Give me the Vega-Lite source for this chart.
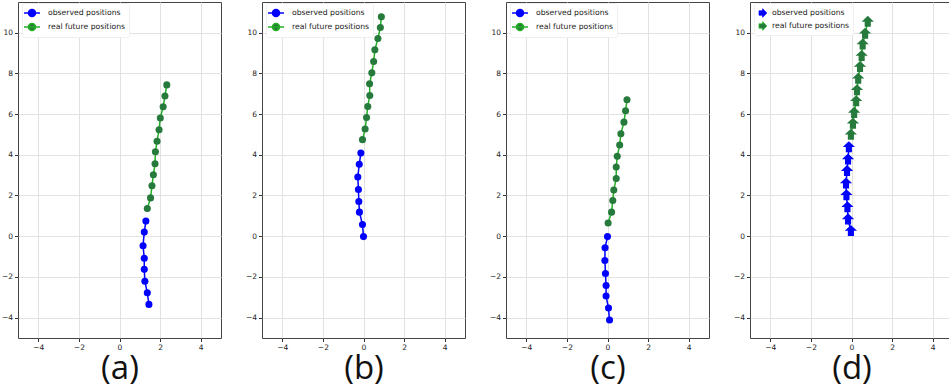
{
  "$schema": "https://vega.github.io/schema/vega-lite/v6.json",
  "background": "white",
  "padding": {"left": 0, "top": 1, "right": 0, "bottom": 0},
  "spacing": 22,
  "resolve": {"scale": {"fill": "independent", "stroke": "independent"}, "legend": {"fill": "independent", "stroke": "independent"}},
  "config": {
    "view": {"stroke": "#444", "strokeWidth": 1},
    "axis": {"domain": false, "grid": true, "gridColor": "#e2e2e2", "gridWidth": 1, "tickColor": "#333", "tickSize": 3.5, "labelFont": "DejaVu Sans", "labelFontSize": 7.5, "labelColor": "#222", "labelPadding": 2, "titleFont": "Open Sans", "titleFontSize": 33, "titleFontWeight": "normal", "titleColor": "#111", "titlePadding": 1},
    "legend": {"orient": "none", "legendX": 4, "legendY": 1, "title": null, "symbolSize": 150, "symbolStrokeWidth": 1.5, "labelFont": "DejaVu Sans", "labelFontSize": 7.7, "labelColor": "#222", "labelOffset": 9, "rowPadding": 0, "padding": 3, "fillColor": "white", "strokeColor": "#f0f0f0", "cornerRadius": 2}
  },
  "hconcat": [
    {
      "width": 203, "height": 336,
      "data": {"values": [
        {"s": "observed positions", "i": 0, "x": 1.45, "y": -3.35},
        {"s": "observed positions", "i": 1, "x": 1.37, "y": -2.78},
        {"s": "observed positions", "i": 2, "x": 1.25, "y": -2.21},
        {"s": "observed positions", "i": 3, "x": 1.22, "y": -1.63},
        {"s": "observed positions", "i": 4, "x": 1.22, "y": -1.08},
        {"s": "observed positions", "i": 5, "x": 1.16, "y": -0.47},
        {"s": "observed positions", "i": 6, "x": 1.22, "y": 0.20},
        {"s": "observed positions", "i": 7, "x": 1.30, "y": 0.74},
        {"s": "real future positions", "i": 0, "x": 1.37, "y": 1.36},
        {"s": "real future positions", "i": 1, "x": 1.53, "y": 1.88},
        {"s": "real future positions", "i": 2, "x": 1.60, "y": 2.48},
        {"s": "real future positions", "i": 3, "x": 1.67, "y": 3.02},
        {"s": "real future positions", "i": 4, "x": 1.75, "y": 3.56},
        {"s": "real future positions", "i": 5, "x": 1.77, "y": 4.15},
        {"s": "real future positions", "i": 6, "x": 1.85, "y": 4.66},
        {"s": "real future positions", "i": 7, "x": 1.95, "y": 5.23},
        {"s": "real future positions", "i": 8, "x": 2.01, "y": 5.80},
        {"s": "real future positions", "i": 9, "x": 2.15, "y": 6.36},
        {"s": "real future positions", "i": 10, "x": 2.24, "y": 6.88},
        {"s": "real future positions", "i": 11, "x": 2.33, "y": 7.43}
      ]},
      "layer": [
        {"mark": {"type": "line", "strokeWidth": 1.5},
         "encoding": {
           "x": {"field": "x", "type": "quantitative", "scale": {"domain": [-5, 5], "nice": false, "zero": false}, "axis": {"values": [-4, -2, 0, 2, 4], "title": "(a)"}},
           "y": {"field": "y", "type": "quantitative", "scale": {"domain": [-5, 11.5], "nice": false, "zero": false}, "axis": {"values": [-4, -2, 0, 2, 4, 6, 8, 10], "title": null}},
           "stroke": {"field": "s", "type": "nominal", "scale": {"domain": ["observed positions", "real future positions"], "range": ["#0000ff", "#22b022"]},
             "legend": {"symbolType": "M-1.3,0L1.3,0M0.57,0A0.57,0.57,0,1,1,-0.57,0A0.57,0.57,0,1,1,0.57,0Z",
               "encode": {"symbols": {"update": {"fill": {"signal": "datum.value === 'observed positions' ? '#0000ff' : '#267a3c'"}}}}}},
           "order": {"field": "i", "type": "quantitative"}}},
        {"mark": {"type": "point", "filled": true, "shape": "circle", "size": 50, "opacity": 1},
         "encoding": {
           "x": {"field": "x", "type": "quantitative"},
           "y": {"field": "y", "type": "quantitative"},
           "fill": {"field": "s", "type": "nominal", "scale": {"domain": ["observed positions", "real future positions"], "range": ["#0000ff", "#267a3c"]}, "legend": null}}}
      ]
    },
    {
      "width": 203, "height": 336,
      "data": {"values": [
        {"s": "observed positions", "i": 0, "x": 0.00, "y": -0.02},
        {"s": "observed positions", "i": 1, "x": -0.05, "y": 0.57},
        {"s": "observed positions", "i": 2, "x": -0.20, "y": 1.18},
        {"s": "observed positions", "i": 3, "x": -0.23, "y": 1.70},
        {"s": "observed positions", "i": 4, "x": -0.25, "y": 2.29},
        {"s": "observed positions", "i": 5, "x": -0.28, "y": 2.91},
        {"s": "observed positions", "i": 6, "x": -0.21, "y": 3.53},
        {"s": "observed positions", "i": 7, "x": -0.13, "y": 4.08},
        {"s": "real future positions", "i": 0, "x": -0.05, "y": 4.74},
        {"s": "real future positions", "i": 1, "x": 0.08, "y": 5.26},
        {"s": "real future positions", "i": 2, "x": 0.15, "y": 5.83},
        {"s": "real future positions", "i": 3, "x": 0.21, "y": 6.37},
        {"s": "real future positions", "i": 4, "x": 0.31, "y": 6.91},
        {"s": "real future positions", "i": 5, "x": 0.30, "y": 7.48},
        {"s": "real future positions", "i": 6, "x": 0.41, "y": 8.02},
        {"s": "real future positions", "i": 7, "x": 0.50, "y": 8.58},
        {"s": "real future positions", "i": 8, "x": 0.56, "y": 9.15},
        {"s": "real future positions", "i": 9, "x": 0.71, "y": 9.71},
        {"s": "real future positions", "i": 10, "x": 0.83, "y": 10.25},
        {"s": "real future positions", "i": 11, "x": 0.88, "y": 10.77}
      ]},
      "layer": [
        {"mark": {"type": "line", "strokeWidth": 1.5},
         "encoding": {
           "x": {"field": "x", "type": "quantitative", "scale": {"domain": [-5, 5], "nice": false, "zero": false}, "axis": {"values": [-4, -2, 0, 2, 4], "title": "(b)"}},
           "y": {"field": "y", "type": "quantitative", "scale": {"domain": [-5, 11.5], "nice": false, "zero": false}, "axis": {"values": [-4, -2, 0, 2, 4, 6, 8, 10], "title": null}},
           "stroke": {"field": "s", "type": "nominal", "scale": {"domain": ["observed positions", "real future positions"], "range": ["#0000ff", "#22b022"]},
             "legend": {"symbolType": "M-1.3,0L1.3,0M0.57,0A0.57,0.57,0,1,1,-0.57,0A0.57,0.57,0,1,1,0.57,0Z",
               "encode": {"symbols": {"update": {"fill": {"signal": "datum.value === 'observed positions' ? '#0000ff' : '#267a3c'"}}}}}},
           "order": {"field": "i", "type": "quantitative"}}},
        {"mark": {"type": "point", "filled": true, "shape": "circle", "size": 50, "opacity": 1},
         "encoding": {
           "x": {"field": "x", "type": "quantitative"},
           "y": {"field": "y", "type": "quantitative"},
           "fill": {"field": "s", "type": "nominal", "scale": {"domain": ["observed positions", "real future positions"], "range": ["#0000ff", "#267a3c"]}, "legend": null}}}
      ]
    },
    {
      "width": 203, "height": 336,
      "data": {"values": [
        {"s": "observed positions", "i": 0, "x": 0.10, "y": -4.12},
        {"s": "observed positions", "i": 1, "x": 0.05, "y": -3.53},
        {"s": "observed positions", "i": 2, "x": -0.07, "y": -2.94},
        {"s": "observed positions", "i": 3, "x": -0.07, "y": -2.42},
        {"s": "observed positions", "i": 4, "x": -0.10, "y": -1.83},
        {"s": "observed positions", "i": 5, "x": -0.13, "y": -1.19},
        {"s": "observed positions", "i": 6, "x": -0.12, "y": -0.57},
        {"s": "observed positions", "i": 7, "x": 0.00, "y": -0.02},
        {"s": "real future positions", "i": 0, "x": 0.03, "y": 0.65},
        {"s": "real future positions", "i": 1, "x": 0.20, "y": 1.18},
        {"s": "real future positions", "i": 2, "x": 0.26, "y": 1.75},
        {"s": "real future positions", "i": 3, "x": 0.31, "y": 2.27},
        {"s": "real future positions", "i": 4, "x": 0.43, "y": 2.83},
        {"s": "real future positions", "i": 5, "x": 0.43, "y": 3.40},
        {"s": "real future positions", "i": 6, "x": 0.48, "y": 3.92},
        {"s": "real future positions", "i": 7, "x": 0.60, "y": 4.48},
        {"s": "real future positions", "i": 8, "x": 0.66, "y": 5.03},
        {"s": "real future positions", "i": 9, "x": 0.81, "y": 5.60},
        {"s": "real future positions", "i": 10, "x": 0.89, "y": 6.16},
        {"s": "real future positions", "i": 11, "x": 0.96, "y": 6.70}
      ]},
      "layer": [
        {"mark": {"type": "line", "strokeWidth": 1.5},
         "encoding": {
           "x": {"field": "x", "type": "quantitative", "scale": {"domain": [-5, 5], "nice": false, "zero": false}, "axis": {"values": [-4, -2, 0, 2, 4], "title": "(c)"}},
           "y": {"field": "y", "type": "quantitative", "scale": {"domain": [-5, 11.5], "nice": false, "zero": false}, "axis": {"values": [-4, -2, 0, 2, 4, 6, 8, 10], "title": null}},
           "stroke": {"field": "s", "type": "nominal", "scale": {"domain": ["observed positions", "real future positions"], "range": ["#0000ff", "#22b022"]},
             "legend": {"symbolType": "M-1.3,0L1.3,0M0.57,0A0.57,0.57,0,1,1,-0.57,0A0.57,0.57,0,1,1,0.57,0Z",
               "encode": {"symbols": {"update": {"fill": {"signal": "datum.value === 'observed positions' ? '#0000ff' : '#267a3c'"}}}}}},
           "order": {"field": "i", "type": "quantitative"}}},
        {"mark": {"type": "point", "filled": true, "shape": "circle", "size": 50, "opacity": 1},
         "encoding": {
           "x": {"field": "x", "type": "quantitative"},
           "y": {"field": "y", "type": "quantitative"},
           "fill": {"field": "s", "type": "nominal", "scale": {"domain": ["observed positions", "real future positions"], "range": ["#0000ff", "#267a3c"]}, "legend": null}}}
      ]
    },
    {
      "width": 203, "height": 336,
      "data": {"values": [
        {"s": "observed positions", "i": 0, "x": -0.03, "y": 0.25},
        {"s": "observed positions", "i": 1, "x": -0.17, "y": 0.82},
        {"s": "observed positions", "i": 2, "x": -0.20, "y": 1.42},
        {"s": "observed positions", "i": 3, "x": -0.25, "y": 2.01},
        {"s": "observed positions", "i": 4, "x": -0.27, "y": 2.58},
        {"s": "observed positions", "i": 5, "x": -0.22, "y": 3.19},
        {"s": "observed positions", "i": 6, "x": -0.17, "y": 3.76},
        {"s": "observed positions", "i": 7, "x": -0.13, "y": 4.36},
        {"s": "real future positions", "i": 0, "x": -0.03, "y": 4.98},
        {"s": "real future positions", "i": 1, "x": 0.07, "y": 5.52},
        {"s": "real future positions", "i": 2, "x": 0.13, "y": 6.05},
        {"s": "real future positions", "i": 3, "x": 0.23, "y": 6.62},
        {"s": "real future positions", "i": 4, "x": 0.27, "y": 7.16},
        {"s": "real future positions", "i": 5, "x": 0.33, "y": 7.73},
        {"s": "real future positions", "i": 6, "x": 0.42, "y": 8.30},
        {"s": "real future positions", "i": 7, "x": 0.50, "y": 8.84},
        {"s": "real future positions", "i": 8, "x": 0.55, "y": 9.41},
        {"s": "real future positions", "i": 9, "x": 0.67, "y": 9.94},
        {"s": "real future positions", "i": 10, "x": 0.80, "y": 10.52}
      ]},
      "layer": [
        {"mark": {"type": "line", "strokeWidth": 1.5},
         "encoding": {
           "x": {"field": "x", "type": "quantitative", "scale": {"domain": [-5, 5], "nice": false, "zero": false}, "axis": {"values": [-4, -2, 0, 2, 4], "title": "(d)"}},
           "y": {"field": "y", "type": "quantitative", "scale": {"domain": [-5, 11.5], "nice": false, "zero": false}, "axis": {"values": [-4, -2, 0, 2, 4, 6, 8, 10], "title": null}},
           "stroke": {"field": "s", "type": "nominal", "scale": {"domain": ["observed positions", "real future positions"], "range": ["#0000ff", "#22b022"]},
             "legend": {"symbolType": "M0.45,0L-0.22,-0.7L-0.22,-0.35L-0.81,-0.35L-0.81,0.35L-0.22,0.35L-0.22,0.7Z", "labelOffset": 1, "symbolStrokeWidth": 0.8,
               "encode": {"symbols": {"update": {"fill": {"signal": "datum.value === 'observed positions' ? '#0000ff' : '#267a3c'"}}}}}},
           "order": {"field": "i", "type": "quantitative"}}},
        {"mark": {"type": "point", "filled": true, "shape": "M0,-1L1,-0.05L0.5,-0.05L0.5,0.8L-0.5,0.8L-0.5,-0.05L-1,-0.05Z", "size": 150, "opacity": 1},
         "encoding": {
           "x": {"field": "x", "type": "quantitative"},
           "y": {"field": "y", "type": "quantitative"},
           "fill": {"field": "s", "type": "nominal", "scale": {"domain": ["observed positions", "real future positions"], "range": ["#0000ff", "#267a3c"]}, "legend": null}}}
      ]
    }
  ]
}
